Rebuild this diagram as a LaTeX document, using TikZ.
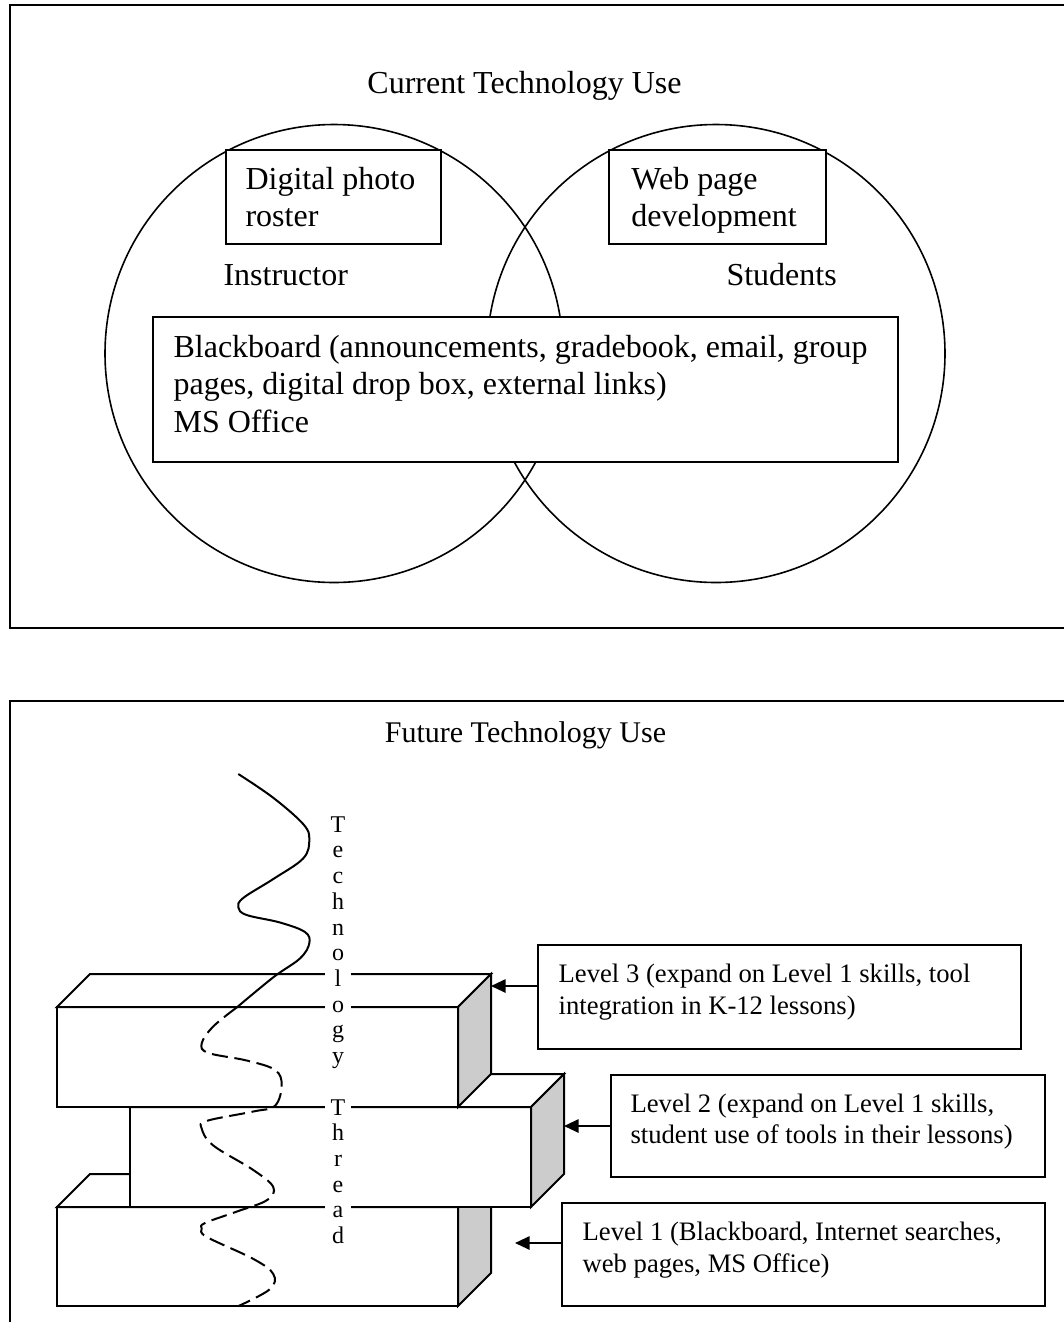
\documentclass[tikz,border=0pt]{standalone}
\usepackage{fontspec}
\setmainfont{Liberation Serif}
\usetikzlibrary{arrows.meta}
\definecolor{sidegray}{gray}{0.8}
\begin{document}
\begin{tikzpicture}[x=0.375pt,y=-0.375pt,
  frame/.style={line width=0.8pt},
  venn/.style={draw, circle, line width=0.6pt, minimum size=171.75pt, inner sep=0pt},
  box/.style={draw, line width=0.75pt, fill=white, inner sep=0pt},
  txt/.style={align=left, inner sep=0pt, anchor=north west},
  big/.style={font=\fontsize{12}{13.9}\selectfont},
  small/.style={font=\fontsize{10}{11.8}\selectfont},
  face/.style={draw, line width=0.75pt, line join=miter, fill=white},
  sideface/.style={draw, line width=0.75pt, line join=miter, fill=sidegray},
  arr/.style={line width=0.75pt, -{Triangle[length=5.5pt,width=5pt]}},
  thread/.style={line width=0.75pt},
]
\useasboundingbox (0,0) rectangle (1064,1322);
\fill[white] (0,0) rectangle (1064,1322);

% ---------- upper panel: current use ----------
\draw[frame] (10,5) rectangle (1100,628);
\node[font=\fontsize{12}{13.8}\selectfont, anchor=base] (curtitle) at (524.5,93) {Current Technology Use};

\node[venn] (instc) at (334,353.5) {};
\node[venn] (studc) at (716,353.5) {};

\node[big, anchor=base west, inner sep=0pt] (instr) at (223,285) {Instructor};
\node[big, anchor=base west, inner sep=0pt] (stud) at (726,285) {Students};

\node[box, minimum width=80.6pt, minimum height=35.25pt] (photo) at (333.5,197) {};
\node[txt, big] (phototxt) at ([xshift=7.5pt, yshift=-6.75pt]photo.north west) {Digital photo\\roster};

\node[box, minimum width=81.4pt, minimum height=35.25pt] (web) at (717.5,197) {};
\node[txt, big] (webtxt) at ([xshift=8.6pt, yshift=-6.75pt]web.north west) {Web page\\development};

\node[box, minimum width=279.4pt, minimum height=54.4pt] (bb) at (525.5,389.5) {};
\node[txt, big] (bbtxt) at ([xshift=7.9pt, yshift=-7.2pt]bb.north west)
  {Blackboard (announcements, gradebook, email, group\\pages, digital drop box, external links)\\MS Office};

% ---------- lower panel: future use ----------
\draw[frame] (1100,701) -- (10,701) -- (10,1340);
\node[font=\fontsize{11.25}{13}\selectfont, anchor=base] (futtitle) at (525.5,742) {Future Technology Use};

% bottom slab
\path[face] (57,1207) -- (458,1207) -- (458,1306) -- (57,1306) -- cycle;
\path[face] (57,1207) -- (90,1174) -- (491,1174) -- (458,1207) -- cycle;
\path[sideface] (458,1207) -- (491,1174) -- (491,1273) -- (458,1306) -- cycle;
% middle slab
\path[face] (130,1107) -- (531,1107) -- (531,1207) -- (130,1207) -- cycle;
\path[face] (130,1107) -- (163,1074) -- (564,1074) -- (531,1107) -- cycle;
\path[sideface] (531,1107) -- (564,1074) -- (564,1174) -- (531,1207) -- cycle;
% top slab
\path[face] (57,1007) -- (458,1007) -- (458,1107) -- (57,1107) -- cycle;
\path[face] (57,1007) -- (90,974) -- (491,974) -- (458,1007) -- cycle;
\path[sideface] (458,1007) -- (491,974) -- (491,1074) -- (458,1107) -- cycle;

% the thread: visible above the stack, hidden (dashed) inside it
\draw[thread] plot[smooth, tension=0.6] coordinates {
  (238.3,774.0) (273.3,797.8) (303.3,824.2) (309.3,839.4) (303.3,858.3)
  (273.3,879.0) (243.3,897.9) (238.3,907.4) (246.7,915.0) (280,922.5)
  (305,932.0) (309.3,943.3) (300,958.4) (273.3,977.3) (236.7,1007.5)};
\draw[thread, dash pattern=on 6pt off 2.5pt] plot[smooth, tension=0.6] coordinates {
  (236.7,1007.5) (213.3,1026.4) (201.7,1043.4) (208.3,1052.9) (246.7,1060.5)
  (275,1069.9) (281.7,1085.0) (275,1105.8) (253.3,1111.5) (206.7,1120.9)
  (201.7,1128.5) (213.3,1145.5) (253.3,1170.0) (273.3,1187.1) (266.7,1200.3)
  (236.7,1211.6) (205,1223.0) (201.7,1228.6) (206.7,1236.9) (253.3,1258.9)
  (273.3,1274.0) (270,1289.1) (238.3,1306.1)};

\node[fill=white, inner xsep=0pt, inner ysep=0pt, text width=9.75pt, align=center,
  anchor=north, font=\fontsize{9}{9.64}\selectfont] (thr) at (338,816)
  {T\\e\\c\\h\\n\\o\\l\\o\\g\\y\\[9.64pt]T\\h\\r\\e\\a\\d};

% level descriptions and their pointers
\coordinate (t3) at (491,986);
\coordinate (t2) at (564,1126);
\coordinate (t1) at (515,1243);

\node[box, minimum width=181.1pt, minimum height=38.7pt] (lv3) at (779.5,997) {};
\node[txt, small] (lv3txt) at ([xshift=7.9pt, yshift=-7.2pt]lv3.north west)
  {Level 3 (expand on Level 1 skills, tool\\integration in K-12 lessons)};
\node[box, minimum width=162.75pt, minimum height=38.5pt] (lv2) at (828,1126.1) {};
\node[txt, small] (lv2txt) at ([xshift=7.5pt, yshift=-7.2pt]lv2.north west)
  {Level 2 (expand on Level 1 skills,\\student use of tools in their lessons)};
\node[box, minimum width=181.1pt, minimum height=38.5pt] (lv1) at (803.5,1254.7) {};
\node[txt, small] (lv1txt) at ([xshift=7.9pt, yshift=-7.2pt]lv1.north west)
  {Level 1 (Blackboard, Internet searches,\\web pages, MS Office)};

\draw[arr] (lv3.west |- t3) -- (t3);
\draw[arr] (lv2.west |- t2) -- (t2);
\draw[arr] (lv1.west |- t1) -- (t1);
\end{tikzpicture}
\end{document}
